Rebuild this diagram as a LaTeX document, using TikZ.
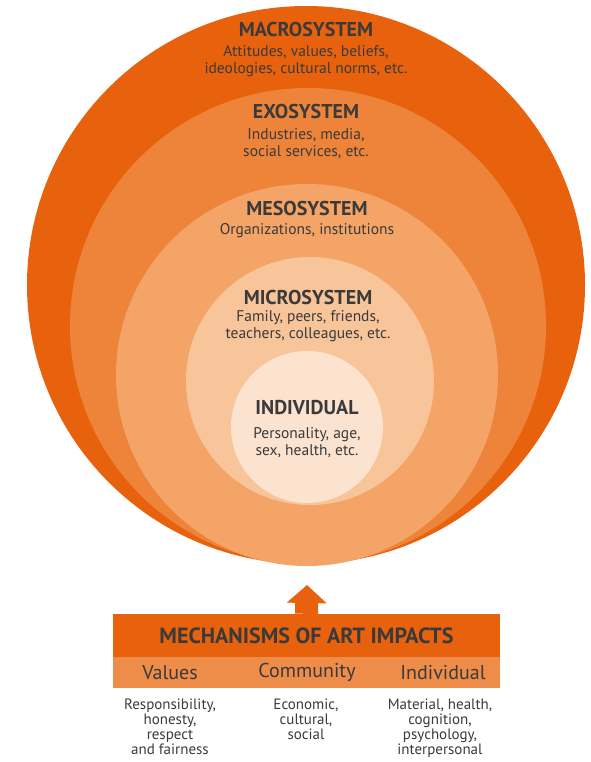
\documentclass[tikz,border=0pt]{standalone}
\usepackage{fontspec}
\setmainfont{PT Sans}
\usetikzlibrary{positioning,arrows.meta}

\definecolor{macroc}{HTML}{E8620E}
\definecolor{exoc}{HTML}{EE843A}
\definecolor{mesoc}{HTML}{F3A466}
\definecolor{microc}{HTML}{F8C49A}
\definecolor{indivc}{HTML}{FCE3CF}
\definecolor{bandc}{HTML}{EE8C4A}
\definecolor{textc}{HTML}{3A3A3A}

\tikzset{
  ring/.style={circle, inner sep=0pt, minimum size=#1},
  levelname/.style={font=\bfseries\fontsize{20}{22}\selectfont, text=textc, inner sep=0pt},
  leveltext/.style={font=\fontsize{15.5}{17}\selectfont, text=textc, align=center, inner sep=0pt},
  headname/.style={font=\bfseries\fontsize{22}{24}\selectfont, text=textc},
  colname/.style={font=\fontsize{20}{22}\selectfont, text=textc},
  coltext/.style={font=\fontsize{15}{15}\selectfont, text=textc, align=center, anchor=north},
}

\begin{document}
\begin{tikzpicture}[x=1pt, y=-1pt]
  \useasboundingbox (0,0) rectangle (590,762);

  % nested systems
  \node (macro) [ring=558pt, fill=macroc] at (306,285) {};
  \node (exo)   [ring=476pt, fill=exoc]   at (308,326) {};
  \node (meso)  [ring=382pt, fill=mesoc]  at (307,375) {};
  \node (micro) [ring=248pt, fill=microc] at (310,381) {};
  \node (indiv) [ring=152pt, fill=indivc] at (307,427) {};

  \node (macrot) [levelname] at (306,30) {MACROSYSTEM};
  \node (macrod) [leveltext, below=8pt of macrot] {Attitudes, values, beliefs,\\ideologies, cultural norms, etc.};
  \node (exot) [levelname] at (306,112) {EXOSYSTEM};
  \node (exod) [leveltext, below=9pt of exot] {Industries, media,\\social services, etc.};
  \node (mesot) [levelname] at (307,208) {MESOSYSTEM};
  \node (mesod) [leveltext, below=8pt of mesot] {Organizations, institutions};
  \node (microt) [levelname] at (308,297) {MICROSYSTEM};
  \node (microd) [leveltext, below=6pt of microt] {Family, peers, friends,\\teachers, colleagues, etc.};
  \node (indivt) [levelname] at (307,408) {INDIVIDUAL};
  \node (indivd) [leveltext, below=12pt of indivt] {Personality, age,\\sex, health, etc.};

  % mechanisms box
  \node (mech) [headname, fill=macroc, minimum width=387pt, minimum height=43pt] at (306.5,635.5) {MECHANISMS OF ART IMPACTS};
  \node (band) [fill=bandc, minimum width=387pt, minimum height=31pt, inner sep=0pt, below=0pt of mech] {};
  \node (values) [colname] at (170,672.5) {Values};
  \node (community) [colname] at (307,672.5) {Community};
  \node (individual) [colname] at (443,672.5) {Individual};
  \node (valuesd) [coltext] at (170,695) {Responsibility,\\honesty,\\respect\\and fairness};
  \node (communityd) [coltext] at (306,695) {Economic,\\cultural,\\social};
  \node (individuald) [coltext] at (440,695) {Material, health,\\cognition,\\psychology,\\interpersonal};

  \coordinate (tip) at (307,585);
  \draw[-{Triangle[width=39pt, length=18pt]}, line width=23pt, macroc] (mech.north) -- (tip);
\end{tikzpicture}
\end{document}
